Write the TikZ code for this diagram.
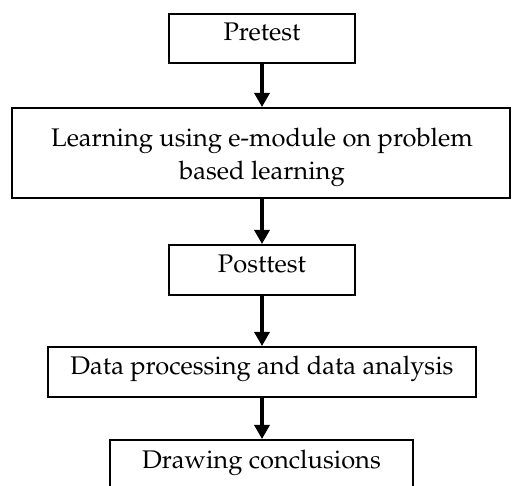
\documentclass[tikz,border=0pt]{standalone}
\usepackage[T1]{fontenc}
\usepackage{mathpazo}
\usetikzlibrary{arrows.meta}
\begin{document}
\begin{tikzpicture}[x=1pt,y=-1pt,
  box/.style={draw=black, line width=2pt, rectangle, inner sep=0pt},
  txt/.style={font=\fontsize{25.5}{33}\selectfont, align=center},
  one/.style={box, txt, text height=0.7em, text depth=0.25em},
  flow/.style={line width=3.2pt, -{Triangle[length=14pt,width=15pt]}}]
\clip (0,0) rectangle (512,486);
\node[one, minimum width=186pt, minimum height=49pt] (pre) at (262,38.5) {Pretest};
\node[box, minimum width=498pt, minimum height=90pt] (learn) at (261,153) {};
\node[txt, inner sep=0pt] (learntext) at (262,157) {Learning using e-module on problem\\based learning};
\node[one, minimum width=186pt, minimum height=50pt] (post) at (262,270) {Posttest};
\node[one, minimum width=428pt, minimum height=50pt] (data) at (262,372) {Data processing and data analysis};
\node[one, minimum width=303pt, minimum height=52pt] (concl) at (261.5,466) {Drawing conclusions};
\draw[flow] (pre.south) -- (pre.south |- learn.north);
\draw[flow] (post.north |- learn.south) -- (post.north);
\draw[flow] (post.south) -- (data.north);
\draw[flow] (data.south) -- (data.south |- concl.north);
\end{tikzpicture}
\end{document}
